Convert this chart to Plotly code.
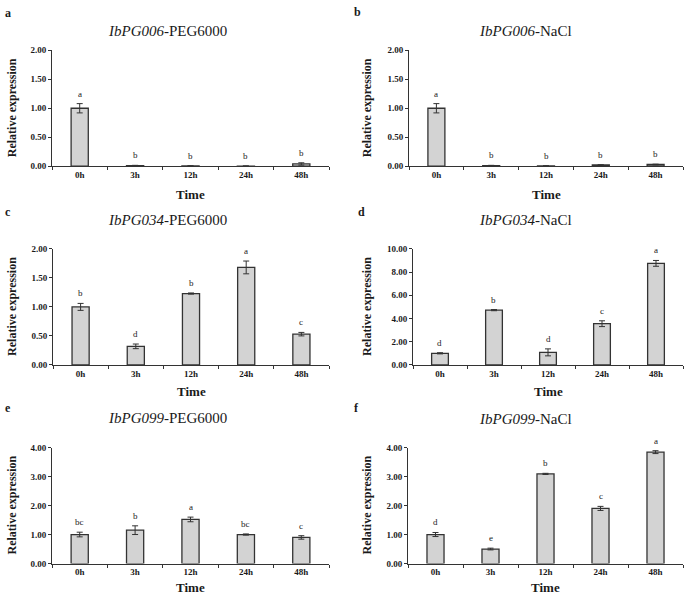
import plotly.graph_objects as go
from plotly.subplots import make_subplots

times = ["0h", "3h", "12h", "24h", "48h"]

a_vals = [1.00, 0.012, 0.006, 0.004, 0.04]
a_err = [0.08, 0.004, 0.003, 0.002, 0.02]
a_let = ["a", "b", "b", "b", "b"]

b_vals = [1.00, 0.012, 0.006, 0.022, 0.03]
b_err = [0.08, 0.004, 0.003, 0.004, 0.006]
b_let = ["a", "b", "b", "b", "b"]

c_vals = [1.00, 0.32, 1.23, 1.68, 0.53]
c_err = [0.06, 0.04, 0.01, 0.11, 0.03]
c_let = ["b", "d", "b", "a", "c"]

d_vals = [1.00, 4.72, 1.08, 3.55, 8.75]
d_err = [0.05, 0.05, 0.30, 0.25, 0.25]
d_let = ["d", "b", "d", "c", "a"]

e_vals = [1.00, 1.15, 1.52, 1.00, 0.90]
e_err = [0.08, 0.15, 0.08, 0.02, 0.06]
e_let = ["bc", "b", "a", "bc", "c"]

f_vals = [1.00, 0.50, 3.09, 1.90, 3.84]
f_err = [0.07, 0.03, 0.02, 0.07, 0.05]
f_let = ["d", "e", "b", "c", "a"]

gene_names = ["IbPG006", "IbPG006", "IbPG034", "IbPG034", "IbPG099", "IbPG099"]
treatments = ["PEG6000", "NaCl", "PEG6000", "NaCl", "PEG6000", "NaCl"]
panel_letters = ["a", "b", "c", "d", "e", "f"]
y_max = [2.0, 2.0, 2.0, 10.0, 4.0, 4.0]
y_dtick = [0.5, 0.5, 0.5, 2.0, 1.0, 1.0]

panels = [
    (a_vals, a_err, a_let),
    (b_vals, b_err, b_let),
    (c_vals, c_err, c_let),
    (d_vals, d_err, d_let),
    (e_vals, e_err, e_let),
    (f_vals, f_err, f_let),
]

W, H = 685, 600
# plot area pixel boxes: (x0, x1, ytop, ybottom)
boxes = [
    (52, 329, 46, 164),
    (409, 683, 46, 164),
    (53, 329, 248, 366),
    (413, 683, 248, 366),
    (52, 329, 450, 568),
    (408, 683, 450, 568),
]
title_pos = [(167, 26), (525, 26), (167, 219), (525, 219), (167, 420), (525, 421)]
letter_pos = [(3, 8), (352, 7), (3, 210), (356, 210), (3, 410), (352, 410)]
ylab_x = [12, 367, 12, 367, 12, 367]
time_y = [193, 193, 393, 393, 592, 592]

FONT = "Liberation Serif"
TXT = "#1a1a1a"

fig = make_subplots(rows=3, cols=2)

annotations = []
for i, (vals, errs, lets) in enumerate(panels):
    r, c = i // 2 + 1, i % 2 + 1
    fig.add_trace(
        go.Bar(
            x=times, y=vals, width=0.31,
            marker=dict(color="#d3d3d3", line=dict(color="#333333", width=1.3)),
            error_y=dict(type="data", array=errs, visible=True, color="#333333",
                         thickness=1, width=3),
            showlegend=False, hoverinfo="skip",
        ),
        row=r, col=c,
    )
    x0, x1, yt, yb = boxes[i]
    xa = "xaxis" if i == 0 else f"xaxis{i+1}"
    ya = "yaxis" if i == 0 else f"yaxis{i+1}"
    fig.layout[xa].update(
        domain=[x0 / W, x1 / W], type="category", tickson="boundaries",
        ticks="outside", ticklen=3, tickcolor="#333", showline=True,
        linecolor="#333", linewidth=1, showgrid=False, zeroline=False,
        tickfont=dict(family=FONT, size=9, color=TXT, weight="bold"),
    )
    fig.layout[ya].update(
        domain=[1 - yb / H, 1 - yt / H], range=[0, y_max[i]], dtick=y_dtick[i],
        tick0=0, tickformat=".2f", ticks="outside", ticklen=3, tickcolor="#333",
        showline=True, linecolor="#333", linewidth=1, showgrid=False, zeroline=False,
        tickfont=dict(family=FONT, size=9, color=TXT, weight="bold"),
    )
    xref = "x" if i == 0 else f"x{i+1}"
    yref = "y" if i == 0 else f"y{i+1}"
    for t, v, e, l in zip(times, vals, errs, lets):
        annotations.append(dict(
            x=t, y=v + e, xref=xref, yref=yref, text=l, showarrow=False,
            yanchor="bottom", yshift=3,
            font=dict(family=FONT, size=9, color=TXT),
        ))
    tx, ty = title_pos[i]
    annotations.append(dict(
        x=tx / W, y=1 - ty / H, xref="paper", yref="paper",
        text=f"<i>{gene_names[i]}</i>-{treatments[i]}", showarrow=False,
        xanchor="center", yanchor="middle",
        font=dict(family=FONT, size=15, color=TXT),
    ))
    lx, ly = letter_pos[i]
    annotations.append(dict(
        x=lx / W, y=1 - ly / H, xref="paper", yref="paper",
        text=panel_letters[i], showarrow=False, xanchor="left", yanchor="middle",
        font=dict(family=FONT, size=12, color=TXT, weight="bold"),
    ))
    annotations.append(dict(
        x=ylab_x[i] / W, y=1 - (yt + yb) / 2 / H, xref="paper", yref="paper",
        text="Relative expression", showarrow=False, textangle=-90,
        xanchor="center", yanchor="middle",
        font=dict(family=FONT, size=12, color=TXT, weight="bold"),
    ))
    annotations.append(dict(
        x=(x0 + x1) / 2 / W, y=1 - time_y[i] / H, xref="paper", yref="paper",
        text="Time", showarrow=False, xanchor="center", yanchor="middle",
        font=dict(family=FONT, size=13, color=TXT, weight="bold"),
    ))

fig.update_layout(
    width=W, height=H, margin=dict(l=0, r=0, t=0, b=0),
    paper_bgcolor="white", plot_bgcolor="white",
    annotations=annotations, bargap=0.69,
)

fig.write_html(
    "out.html",
    config={"displayModeBar": False},
    post_script="document.body.style.margin='0';document.body.style.padding='0';",
)
